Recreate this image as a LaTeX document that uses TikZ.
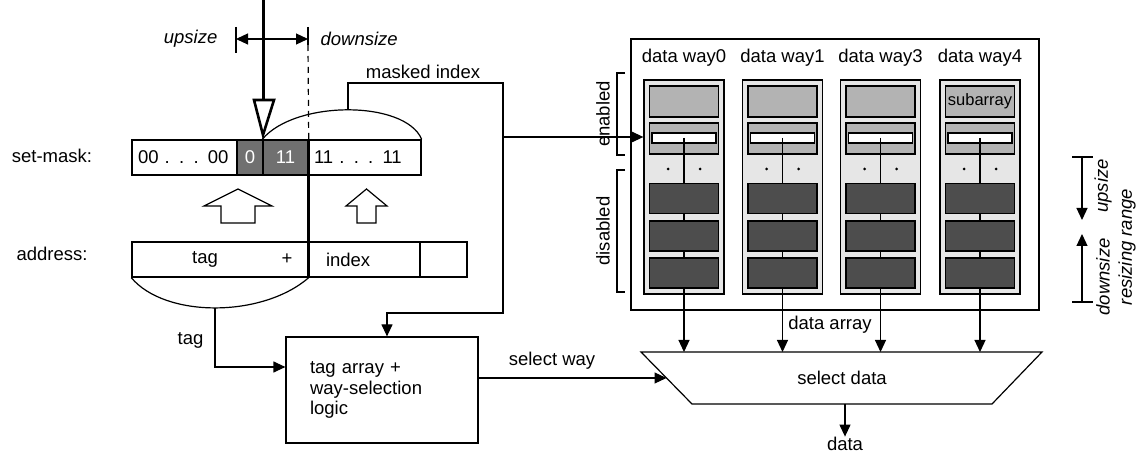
\documentclass[tikz,border=0pt]{standalone}
\usepackage{fontspec}
\setmainfont{Liberation Sans}
\usetikzlibrary{arrows.meta}
\definecolor{cellgray}{HTML}{707070}
\definecolor{colgray}{HTML}{E6E6E6}
\definecolor{subgray}{HTML}{B3B3B3}
\definecolor{blockgray}{HTML}{4D4D4D}

\begin{document}
\begin{tikzpicture}[x=1pt,y=-1pt,line width=1.2pt,
   every node/.style={font=\fontsize{18.5}{20.5}\selectfont,inner sep=0pt},
   >={Triangle[length=12pt,width=11pt]},
   cell/.style={draw,line width=1.4pt,minimum height=35pt},
   darkcell/.style={cell,fill=cellgray,text=white},
   column/.style={draw,fill=colgray,line width=1.3pt,minimum width=80pt,minimum height=214pt},
   subbox/.style={draw,fill=subgray,line width=1.3pt,minimum width=69pt,minimum height=31pt},
   barbox/.style={draw,fill=white,line width=1.3pt,minimum width=64pt,minimum height=10pt},
   darkbox/.style={draw,fill=blockgray,line width=1.3pt,minimum width=69pt,minimum height=30pt},
   lab/.style={font=\fontsize{18.5}{20.5}\selectfont\itshape}]
\useasboundingbox (0,0) rectangle (1144,454);

% set-mask and address
\node (masklab) at (52,156) {set-mask:};
\node (addrlab) at (52,254) {address:};
\node[cell,minimum width=105pt,text width=93pt,inner xsep=6pt,align=left] (mzero) at (184.5,157.5) {00 . . . 00};
\node[darkcell,minimum width=26pt] (mbit) at (250,157.5) {0};
\node[darkcell,minimum width=45pt] (mones) at (285.5,157.5) {11};
\node[cell,minimum width=113pt,text width=101pt,inner xsep=6pt,align=left] (mrest) at (364.5,157.5) {11 . . . 11};
\node[cell,minimum width=176pt] (atag) at (220,259.5) {};
\node (tagtxt) at (205,259.5) {tag};
\node (plus) at (287,259.5) {+};
\node[cell,minimum width=112pt,text width=76pt,inner xsep=18pt,align=left] (aidx) at (364,259.5) {index};
\node[cell,minimum width=47pt] (aoff) at (443.5,259.5) {};
\draw[line width=3pt] (mones.north east) -- (atag.south east);

\draw[fill=white] (204,206) -- (238,189) -- (272,206) -- (255,206) -- (255,223) -- (221,223) -- (221,206) -- cycle;
\draw[fill=white] (346,206) -- (366.5,189) -- (387,206) -- (376,206) -- (376,223) -- (357,223) -- (357,206) -- cycle;

% resize pointer
\draw[line width=3pt] (263,0) -- (263,100);
\draw[line width=2.6pt,fill=white] (254,100) -- (274,100) -- (263,135) -- cycle;
\coordinate (upbar) at (236,39);
\coordinate (dnbar) at (308,39);
\draw ([yshift=12pt]upbar) -- ([yshift=-14pt]upbar);
\draw ([yshift=12pt]dnbar) -- ([yshift=-6pt]dnbar);
\draw[dashed,dash pattern=on 6pt off 5pt] ([yshift=-6pt]dnbar) -- (mones.north east);
\draw[<->] (upbar) -- (dnbar);
\node[lab,anchor=east] (uplab) at (218,39) {upsize};
\node[lab,anchor=west] (dnlab) at (320,39) {downsize};

% masked index and tag
\coordinate (mpeak) at (348,110);
\draw (mones.north west) .. controls (295,100) and (405,100) .. (mrest.north east);
\coordinate (apeak) at (215,308);
\draw (atag.south west) .. controls (165,318) and (262,318) .. (atag.south east);
\node (mlab) at (423,72) {masked index};
\node[draw,minimum width=192pt,minimum height=106pt,text width=144pt,inner xsep=24pt,align=left] (tagarr) at (382,390) {tag array +\\way-selection\\logic};
\coordinate (mtop) at (503,83);
\coordinate (jn) at (503,137);
\coordinate (mbend) at (503,313);
\draw[->] (mpeak) |- (mtop) -- (mbend) -| ([xshift=5pt]tagarr.north);
\node[anchor=east] (taglab) at (204,340) {tag};
\draw[->] (apeak) |- ([yshift=23pt]tagarr.west);

% data array
\node[draw,minimum width=408pt,minimum height=271pt] (darray) at (835,174.5) {};
\coordinate (sdtl) at (641,352);
\coordinate (sdtr) at (1042,352);
\coordinate (sdbr) at (992,404);
\coordinate (sdbl) at (692,404);
\coordinate (sdtop) at (841.5,352);
\coordinate (sdin) at (666.5,378);
\coordinate (sdout) at (845,404);
\draw (sdtl) -- (sdtr) -- (sdbr) -- (sdbl) -- cycle;
\node (sdlab) at (842,378) {select data};
\foreach \cx/\wname [count=\i] in {684/data way0,782.5/data way1,880.5/data way3,980/data way4}{
  \node[column] (way\i) at (\cx,187) {};
  \node (wlab\i) at (\cx,58) {\wname};
  \node[subbox] (sub\i) at (\cx,101.5) {};
  \node[subbox] (row\i) at (\cx,138.5) {};
  \node[barbox] (bar\i) at (\cx,138) {};
  \draw[->] (bar\i.center) -- (bar\i |- sdtop);
  \fill ({\cx-16},169) circle (1.5pt) ({\cx+16},169) circle (1.5pt);
  \node[darkbox] (blka\i) at (\cx,198.5) {};
  \node[darkbox] (blkb\i) at (\cx,236) {};
  \node[darkbox] (blkc\i) at (\cx,273) {};
}
\node[font=\fontsize{16.5}{18}\selectfont] (subtxt) at (sub4) {subarray};
\node (dalab) at (830,325) {data array};
\draw[->] (jn) -- (jn -| way1.west);

\node (data) at (845,444) {data};
\draw[->] (sdout) -- (data.north);
\draw[->] ([yshift=12pt]tagarr.east) -- (sdin);
\node (swlab) at (552,361) {select way};

% enabled / disabled
\draw (625,73) -- (617,73) -- (617,155) -- (625,155);
\draw (625,170) -- (617,170) -- (617,292) -- (625,292);
\node[rotate=90] (enlab) at (603,114) {enabled};
\node[rotate=90] (dislab) at (603,231) {disabled};

% resizing range
\coordinate (rtop) at (1082,157);
\coordinate (rbot) at (1082,302);
\draw ([xshift=-10pt]rtop) -- ([xshift=11pt]rtop);
\draw ([xshift=-10pt]rbot) -- ([xshift=11pt]rbot);
\draw[->] (rtop) -- (1082,220);
\draw[->] (rbot) -- (1082,234);
\node[lab,rotate=90] (rup) at (1103,186) {upsize};
\node[lab,rotate=90] (rdown) at (1103,277) {downsize};
\node[lab,rotate=90] (rrange) at (1127,247) {resizing range};
\end{tikzpicture}
\end{document}
